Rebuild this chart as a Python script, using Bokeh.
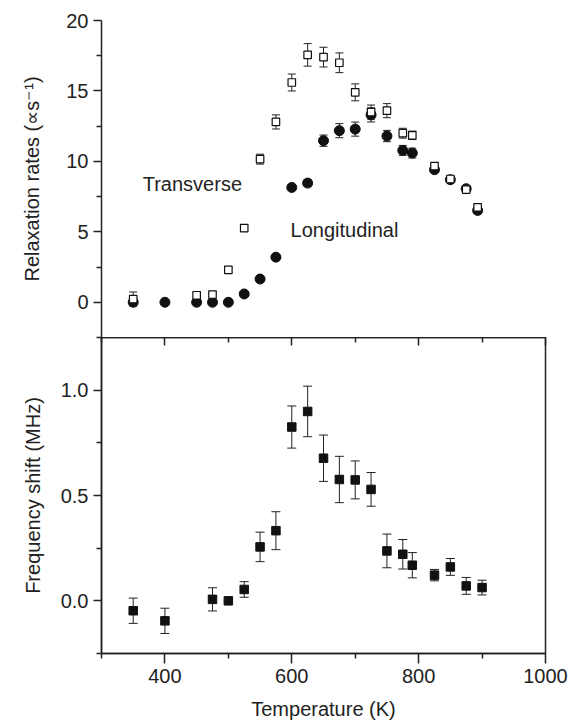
from bokeh.plotting import figure
from bokeh.models import (Range1d, FixedTicker, LinearAxis, Whisker, ColumnDataSource,
                          TeeHead, NumeralTickFormatter)
from bokeh.layouts import column
from bokeh.embed import file_html
from bokeh.resources import INLINE
from bokeh.core.properties import value

# ---- data: top panel (relaxation rates) ----
trans_T = [350, 450, 475, 500, 525, 550, 575, 600, 625, 650, 675, 700, 725, 750, 775, 790, 825, 850, 875, 893]
trans_v = [0.23, 0.5, 0.55, 2.3, 5.27, 10.16, 12.8, 15.6, 17.56, 17.4, 17.0, 14.9, 13.5, 13.6, 12.0, 11.85, 9.67, 8.75, 8.0, 6.74]
trans_e = [0.5, 0.15, 0.2, 0.2, 0.2, 0.35, 0.5, 0.6, 0.8, 0.7, 0.7, 0.6, 0.5, 0.5, 0.35, 0.3, 0.2, 0.15, 0.2, 0.2]

long_T = [350, 400, 450, 475, 500, 525, 550, 575, 600, 625, 650, 675, 700, 725, 750, 775, 790, 825, 850, 875, 893]
long_v = [0.0, 0.0, 0.0, 0.0, 0.0, 0.59, 1.65, 3.2, 8.15, 8.46, 11.47, 12.18, 12.29, 13.3, 11.8, 10.78, 10.59, 9.41, 8.7, 8.06, 6.52]
long_e = [0.05, 0.05, 0.05, 0.05, 0.05, 0.1, 0.1, 0.1, 0.2, 0.25, 0.4, 0.5, 0.5, 0.5, 0.4, 0.35, 0.35, 0.2, 0.2, 0.2, 0.2]

# ---- data: bottom panel (frequency shift) ----
freq_T = [350, 400, 475, 500, 525, 550, 575, 600, 625, 650, 675, 700, 725, 750, 775, 790, 825, 850, 875, 900]
freq_v = [-0.047, -0.095, 0.007, 0.0, 0.054, 0.256, 0.333, 0.825, 0.899, 0.677, 0.576, 0.574, 0.529, 0.237, 0.221, 0.169, 0.122, 0.161, 0.071, 0.063]
freq_e = [0.06, 0.06, 0.055, 0.0, 0.037, 0.07, 0.09, 0.1, 0.12, 0.11, 0.11, 0.09, 0.08, 0.08, 0.07, 0.06, 0.027, 0.04, 0.04, 0.035]

x_major = [400, 600, 800, 1000]
x_minor = [300, 500, 700, 900]
top_major = [0, 5, 10, 15, 20]
top_minor = [-2.5, 2.5, 7.5, 12.5, 17.5]
bot_major = [0.0, 0.5, 1.0]
bot_minor = [-0.25, 0.25, 0.75, 1.25]

FONT = "Liberation Sans"
INK = "#222222"

xr = Range1d(300, 1000)


def style_axis(ax):
    ax.axis_line_color = INK
    ax.axis_line_width = 1.5
    ax.major_tick_line_color = INK
    ax.minor_tick_line_color = INK
    ax.major_tick_line_width = 1.5
    ax.minor_tick_line_width = 1.5
    ax.major_label_text_font = FONT
    ax.major_label_text_font_size = "20px"
    ax.major_label_text_color = INK
    ax.axis_label_text_font = FONT
    ax.axis_label_text_font_size = "20px"
    ax.axis_label_text_font_style = "normal"
    ax.axis_label_text_color = INK


def whiskers(p, xs, ys, es, cap):
    src = ColumnDataSource(dict(base=xs,
                                upper=[y + e for y, e in zip(ys, es)],
                                lower=[y - e for y, e in zip(ys, es)]))
    w = Whisker(source=src, base="base", upper="upper", lower="lower",
                line_color=INK, line_width=1, level="underlay",
                upper_head=TeeHead(size=cap, line_color=INK, line_width=1),
                lower_head=TeeHead(size=cap, line_color=INK, line_width=1))
    p.add_layout(w)


# ---------- top panel ----------
p1 = figure(frame_width=444, frame_height=317, x_range=xr, y_range=Range1d(-2.5, 20),
            output_backend="svg", toolbar_location=None, x_axis_location=None,
            min_border_left=101, min_border_right=25, min_border_top=20, min_border_bottom=0)
p1.outline_line_color = None
p1.grid.visible = False
p1.background_fill_color = "white"
p1.border_fill_color = "white"

ya = p1.yaxis[0]
ya.ticker = FixedTicker(ticks=top_major, minor_ticks=top_minor)
ya.major_tick_out = 8
ya.major_tick_in = 0
ya.minor_tick_out = 5
ya.minor_tick_in = 0
ya.axis_label = "Relaxation rates (\u221ds\u207b\u00b9)"
ya.axis_label_standoff = 20
style_axis(ya)

whiskers(p1, long_T, long_v, long_e, 8)
whiskers(p1, trans_T, trans_v, trans_e, 8)
p1.scatter(long_T, long_v, marker="circle", size=10, fill_color="#111111", line_color="#111111")
p1.scatter(trans_T, trans_v, marker="square", size=7.5, fill_color="white", line_color="#111111", line_width=1.2)

p1.text(x=[365], y=[8.37], text=["Transverse"], text_font=value(FONT), text_font_size="20px",
        text_color=INK, text_baseline="middle", text_align="left")
p1.text(x=[598], y=[5.12], text=["Longitudinal"], text_font=value(FONT), text_font_size="20px",
        text_color=INK, text_baseline="middle", text_align="left")

# ---------- bottom panel ----------
p2 = figure(frame_width=444, frame_height=316, x_range=xr, y_range=Range1d(-0.25, 1.25),
            output_backend="svg", toolbar_location=None,
            min_border_left=101, min_border_right=25, min_border_top=0, min_border_bottom=66)
p2.grid.visible = False
p2.outline_line_color = INK
p2.outline_line_width = 1.5
p2.background_fill_color = "white"
p2.border_fill_color = "white"

xa = p2.xaxis[0]
xa.ticker = FixedTicker(ticks=x_major, minor_ticks=x_minor)
xa.major_tick_out = 10
xa.major_tick_in = 0
xa.minor_tick_out = 5
xa.minor_tick_in = 0
xa.axis_label = "Temperature (K)"
xa.axis_label_standoff = 12
style_axis(xa)

yb = p2.yaxis[0]
yb.ticker = FixedTicker(ticks=bot_major, minor_ticks=bot_minor)
yb.formatter = NumeralTickFormatter(format="0.0")
yb.major_tick_out = 8
yb.major_tick_in = 0
yb.minor_tick_out = 5
yb.minor_tick_in = 0
yb.axis_label = "Frequency shift (MHz)"
yb.axis_label_standoff = 14
style_axis(yb)

top_ax = LinearAxis(ticker=FixedTicker(ticks=x_major, minor_ticks=x_minor))
style_axis(top_ax)
top_ax.major_tick_in = 8
top_ax.major_tick_out = 0
top_ax.minor_tick_in = 5
top_ax.minor_tick_out = 0
top_ax.major_label_overrides = {t: "" for t in x_major}
top_ax.major_label_standoff = 0
p2.add_layout(top_ax, "above")

whiskers(p2, freq_T, freq_v, freq_e, 9)
p2.scatter(freq_T, freq_v, marker="square", size=8.5, fill_color="#111111", line_color="#111111")

layout = column(p1, p2, spacing=0)
open("out.html", "w").write(file_html(layout, INLINE))
